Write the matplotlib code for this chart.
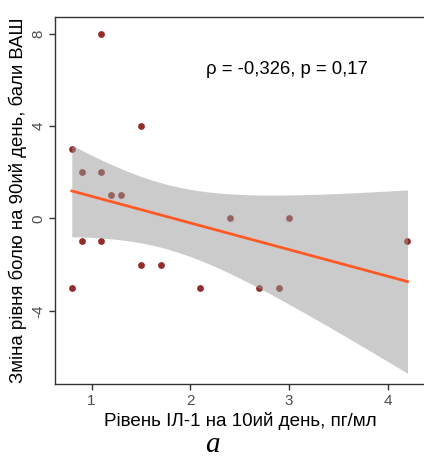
import numpy as np
import matplotlib.pyplot as plt

# ---- data ----
il1_day10 = [0.8, 0.8, 0.9, 0.9, 1.1, 1.1, 1.1, 1.2, 1.3, 1.5, 1.5, 1.7, 2.1, 2.4, 2.7, 2.9, 3.0, 4.2]
pain_change = [3, -3, 2, -1, 8, 2, -1, 1, 1, 4, -2, -2, -3, 0, -3, -3, 0, -1]
x_ticks = [1, 2, 3, 4]
y_ticks = [-4, 0, 4, 8]
annotation = "ρ = -0,326, p = 0,17"

x = np.array(il1_day10, dtype=float)
y = np.array(pain_change, dtype=float)

# linear fit with 95% confidence band (as geom_smooth(method="lm"))
n = len(x)
b, a = np.polyfit(x, y, 1)
xs = np.linspace(x.min(), x.max(), 80)
fit = a + b * xs
resid = y - (a + b * x)
s = np.sqrt((resid ** 2).sum() / (n - 2))
sxx = ((x - x.mean()) ** 2).sum()
se = s * np.sqrt(1 / n + (xs - x.mean()) ** 2 / sxx)
tval = 2.1199  # t(0.975, df=16)
lo, hi = fit - tval * se, fit + tval * se

plt.rcParams["font.family"] = ["Liberation Sans", "DejaVu Sans"]

fig = plt.figure(figsize=(4.24, 4.66), dpi=100)
ax = fig.add_axes([0.1297, 0.176, 0.8733, 0.7875])

ax.scatter(x, y, s=24, color="#932c2c", linewidths=0, zorder=2)
ax.fill_between(xs, lo, hi, color="#999999", alpha=0.5, linewidth=0, zorder=3)
ax.plot(xs, fit, color="#ff5a26", lw=2, zorder=4)

ax.text(2.98, 6.45, annotation, fontsize=13.3, ha="center", va="center")

ax.set_xlim(0.63, 4.38)
ax.set_ylim(-7.17, 8.72)
ax.set_xticks(x_ticks)
ax.set_yticks(y_ticks)
ax.set_xticklabels([str(t) for t in x_ticks])
ax.set_yticklabels([str(t) for t in y_ticks], rotation=90, va="center")
ax.tick_params(colors="#333333", labelcolor="#4d4d4d", labelsize=11, length=4, width=1, pad=3)
for sp in ax.spines.values():
    sp.set_color("#333333")
    sp.set_linewidth(1)

ax.set_xlabel("Рівень ІЛ-1 на 10ий день, пг/мл", fontsize=13.6, labelpad=3)
ax.set_ylabel("Зміна рівня болю на 90ий день, бали ВАШ", fontsize=13.4, labelpad=3)

fig.text(0.5, 0.045, "a", fontsize=21, style="italic", family="Liberation Serif",
         ha="center", va="center")

fig.savefig("out.png", dpi=100)
